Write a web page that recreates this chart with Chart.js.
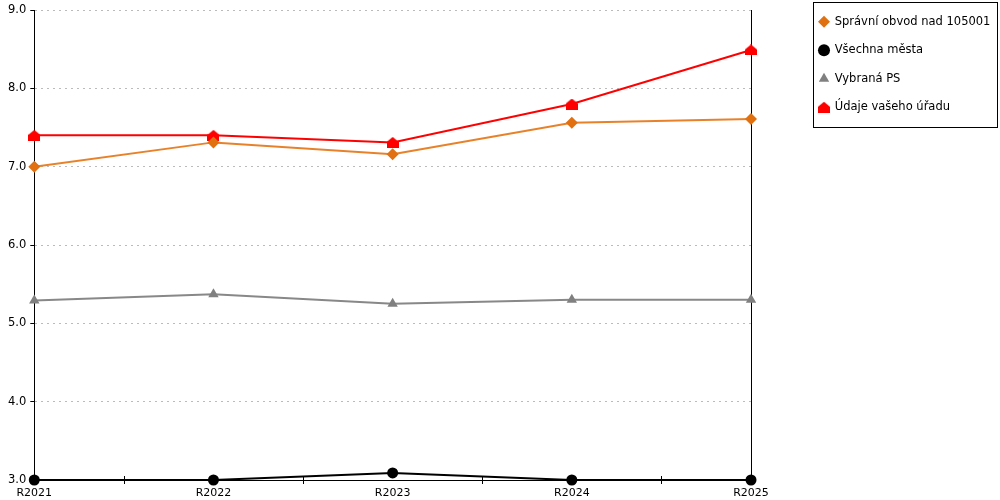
<!DOCTYPE html>
<html>
<head>
<meta charset="utf-8">
<script src="https://cdn.jsdelivr.net/npm/chart.js@4"></script>
<style>
  html, body { margin: 0; padding: 0; background: #fff; }
  #wrap { width: 1000px; height: 500px; }
</style>
</head>
<body>
<div id="wrap"><canvas id="c"></canvas></div>
<script>
const roky = ["R2021", "R2022", "R2023", "R2024", "R2025"];
const spravniObvod = [7.0, 7.31, 7.16, 7.56, 7.61];
const vsechnaMesta = [3.0, 3.0, 3.09, 3.0, 3.0];
const vybranaPS = [5.29, 5.37, 5.25, 5.30, 5.30];
const udajeUradu = [7.40, 7.40, 7.31, 7.80, 8.49];
const yTicks = [3, 4, 5, 6, 7, 8, 9];

// red "house" marker
function houseMarker(w, h, color) {
    const cv = document.createElement("canvas");
    cv.width = w;
    cv.height = h;
    const ctx = cv.getContext("2d");
    ctx.fillStyle = color;
    ctx.beginPath();
    ctx.moveTo(w / 2, 0);
    ctx.lineTo(w, h * 0.45);
    ctx.lineTo(w, h);
    ctx.lineTo(0, h);
    ctx.lineTo(0, h * 0.45);
    ctx.closePath();
    ctx.fill();
    return cv;
}
const house = houseMarker(12, 11, "#ff0000");

const LEGEND_SHIFT = -1;

// fixed legend width + small vertical shift
const legendFix = {
    id: "legendFix",
    beforeUpdate(chart) {
        const lg = chart.legend;
        if (!lg || lg._patched) return;
        lg._patched = true;
        const fit = lg.fit;
        lg.fit = function () {
            fit.call(this);
            this.width = 195;
        };
        const draw = lg.draw;
        lg.draw = function () {
            const ctx = this.ctx;
            ctx.save();
            ctx.translate(0, LEGEND_SHIFT);
            draw.call(this);
            ctx.restore();
        };
    },
    afterDraw(chart) {
        const hb = chart.legend.legendHitBoxes;
        if (!hb || !hb.length) return;
        const ctx = chart.ctx;
        const left = hb[0].left - 6;
        const top = hb[0].top - 14 + LEGEND_SHIFT;
        const bottom = hb[hb.length - 1].top + hb[hb.length - 1].height + 14 + LEGEND_SHIFT;
        const right = 997;
        ctx.save();
        ctx.strokeStyle = "#000";
        ctx.lineWidth = 1;
        ctx.strokeRect(Math.round(left) + 0.5, Math.round(top) + 0.5, Math.round(right - left), Math.round(bottom - top));
        ctx.restore();
    }
};

// small tick marks between categories on the x axis
const midTicks = {
    id: "midTicks",
    afterDatasetsDraw(chart) {
        const x = chart.scales.x;
        const y = chart.chartArea.bottom;
        const ctx = chart.ctx;
        ctx.save();
        ctx.strokeStyle = "#000";
        ctx.lineWidth = 1;
        for (let i = 0; i < roky.length - 1; i++) {
            const px = Math.round((x.getPixelForValue(i) + x.getPixelForValue(i + 1)) / 2) + 0.5;
            ctx.beginPath();
            ctx.moveTo(px, y - 4);
            ctx.lineTo(px, y + 4);
            ctx.stroke();
        }
        ctx.restore();
    }
};

Chart.defaults.font.family = "'DejaVu Sans', Verdana, sans-serif";
Chart.defaults.font.size = 11;
Chart.defaults.color = "#000";

new Chart(document.getElementById("c"), {
    type: "line",
    data: {
        labels: roky,
        datasets: [
            {
                label: "Správní obvod nad 105001",
                data: spravniObvod,
                borderColor: "#e8822a",
                backgroundColor: "#e07010",
                pointStyle: "rectRot",
                pointRadius: 6,
                pointBorderWidth: 0,
                borderWidth: 2
            },
            {
                label: "Všechna města",
                data: vsechnaMesta,
                borderColor: "#000",
                backgroundColor: "#000",
                pointStyle: "circle",
                pointRadius: 5.5,
                pointBorderWidth: 0,
                borderWidth: 2
            },
            {
                label: "Vybraná PS",
                data: vybranaPS,
                borderColor: "#888",
                backgroundColor: "#808080",
                pointStyle: "triangle",
                pointRadius: 6,
                pointBorderWidth: 0,
                borderWidth: 2
            },
            {
                label: "Údaje vašeho úřadu",
                data: udajeUradu,
                borderColor: "#ff0000",
                backgroundColor: "#ff0000",
                pointStyle: house,
                pointRadius: 6,
                pointBorderWidth: 0,
                borderWidth: 2
            }
        ]
    },
    options: {
        responsive: true,
        maintainAspectRatio: false,
        animation: false,
        clip: false,
        layout: { padding: { left: 4, top: 0, right: 3, bottom: 0 } },
        elements: { line: { tension: 0 } },
        plugins: {
            legend: {
                position: "right",
                align: "start",
                labels: {
                    usePointStyle: true,
                    boxWidth: 10,
                    boxHeight: 8.5,
                    padding: 17,
                    color: "#000",
                    font: { size: 11.5 }
                }
            },
            tooltip: { enabled: false }
        },
        scales: {
            x: {
                offset: false,
                grid: { display: true, drawOnChartArea: false, drawTicks: false },
                border: { display: true, color: "#000", width: 1 },
                ticks: { padding: 7, maxRotation: 0 },
                afterFit(scale) { scale.height = 20; }
            },
            y: {
                min: 3,
                max: 9,
                afterBuildTicks(scale) {
                    scale.ticks = yTicks.map(v => ({ value: v }));
                },
                afterFit(scale) { scale.paddingTop = 10; },
                grid: {
                    color: "#bbb",
                    tickColor: "#000",
                    tickLength: 4,
                    drawTicks: true
                },
                border: { display: true, color: "#000", width: 1, dash: [2, 4] },
                ticks: {
                    padding: 4,
                    font: { size: 11.5 },
                    callback: v => Number(v).toFixed(1)
                }
            },
            yR: {
                position: "right",
                display: true,
                grid: { display: false, drawOnChartArea: false, drawTicks: false },
                border: { display: true, color: "#000", width: 1 },
                ticks: { display: false },
                afterFit(scale) { scale.width = 51; }
            }
        }
    },
    plugins: [legendFix, midTicks]
});
</script>
</body>
</html>
